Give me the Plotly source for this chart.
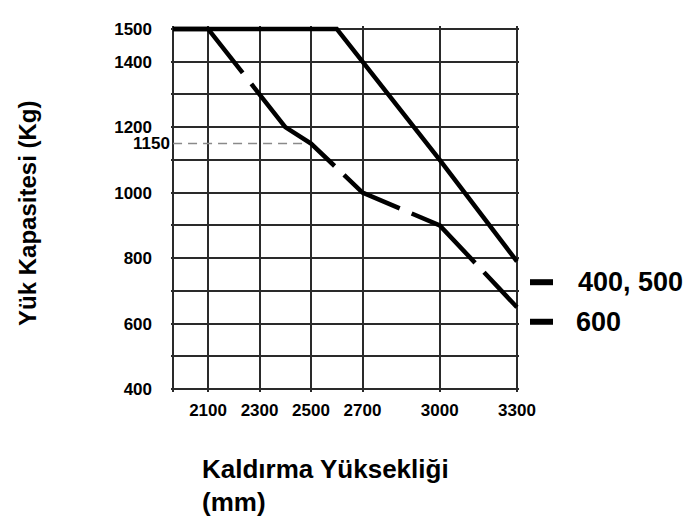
import plotly.graph_objects as go

# ---- data ----
x_start = 1964
x_ticks = [2100, 2300, 2500, 2700, 3000, 3300]
x_tick_labels = ["2100", "2300", "2500", "2700", "3000", "3300"]
y_grid = [400, 500, 600, 700, 800, 900, 1000, 1100, 1200, 1300, 1400, 1500]
y_tick_labels = ["400", "", "600", "", "800", "", "1000", "", "1200", "", "1400", "1500"]

# mast 400, 500 (solid)
x_400_500 = [x_start, 2600, 2700, 3000, 3300]
y_400_500 = [1500, 1500, 1400, 1100, 790]

# mast 600 (long dash)
x_600 = [x_start, 2100, 2400, 2500, 2700, 3000, 3300]
y_600 = [1500, 1500, 1200, 1150, 1000, 900, 650]

ref_x = [x_start, 2500]
ref_y = [1150, 1150]
ref_label = "1150"

series_labels = ["400, 500", "600"]
x_title = "Kaldırma Yüksekliği"
x_unit = "(mm)"
y_title = "Yük Kapasitesi (Kg)"

TICKF = "Liberation Sans, Arial, Helvetica, sans-serif"
ARIAL = "Liberation Sans, Arial, Helvetica, sans-serif"

fig = go.Figure()

fig.add_trace(go.Scatter(x=ref_x, y=ref_y, mode="lines",
                         line=dict(color="#8a8a8a", width=1.4, dash="9px,6px"),
                         hoverinfo="skip", showlegend=False))
fig.add_trace(go.Scatter(x=x_600, y=y_600, mode="lines",
                         line=dict(color="black", width=4.5,
                                   dash="91px,14px,118px,13px,66px,13px,82px,13px,120px,13px"),
                         name=series_labels[1], showlegend=False))
fig.add_trace(go.Scatter(x=x_400_500, y=y_400_500, mode="lines",
                         line=dict(color="black", width=4.5),
                         name=series_labels[0], showlegend=False))

grid_col = "#2a2a2a"
fig.update_xaxes(range=[1956, 3308], tickvals=[x_start] + x_ticks,
                 ticktext=[""] + x_tick_labels, tickangle=0,
                 showgrid=True, gridcolor=grid_col, gridwidth=1.5,
                 zeroline=False, showline=False, ticks="",
                 ticklabelstandoff=6,
                 tickfont=dict(family=TICKF, size=17, color="black", weight="bold"))
fig.update_yaxes(range=[391, 1509], tickvals=y_grid, ticktext=y_tick_labels,
                 showgrid=True, gridcolor=grid_col, gridwidth=1.5,
                 zeroline=False, showline=False, ticks="",
                 ticklabelstandoff=18,
                 tickfont=dict(family=TICKF, size=17, color="black", weight="bold"))

annotations = [
    dict(x=0, xref="paper", y=ref_y[0], yref="y", text=ref_label, showarrow=False,
         xanchor="right", yanchor="middle", xshift=1,
         font=dict(family=TICKF, size=17, color="black", weight="bold")),
    dict(x=(28 - 171) / 348, xref="paper", y=1 - (212 - 22) / 370, yref="paper",
         text=y_title, textangle=-90, showarrow=False, xanchor="center", yanchor="middle",
         font=dict(family=ARIAL, size=24, color="black", weight="bold")),
    dict(x=(200 - 171) / 348, xref="paper", y=1 - (470 - 22) / 370, yref="paper",
         text=x_title, showarrow=False, xanchor="left", yanchor="middle",
         font=dict(family=ARIAL, size=26, color="black", weight="bold")),
    dict(x=(200 - 171) / 348, xref="paper", y=1 - (503 - 22) / 370, yref="paper",
         text=x_unit, showarrow=False, xanchor="left", yanchor="middle",
         font=dict(family=ARIAL, size=26, color="black", weight="bold")),
    dict(x=(576 - 171) / 348, xref="paper", y=1 - (281 - 22) / 370, yref="paper",
         text=series_labels[0], showarrow=False, xanchor="left", yanchor="middle",
         font=dict(family=ARIAL, size=27, color="black", weight="bold")),
    dict(x=(574 - 171) / 348, xref="paper", y=1 - (321 - 22) / 370, yref="paper",
         text=series_labels[1], showarrow=False, xanchor="left", yanchor="middle",
         font=dict(family=ARIAL, size=27, color="black", weight="bold")),
]

shapes = []
for yy in (281, 321):
    shapes.append(dict(type="line", xref="paper", yref="paper",
                       x0=(530 - 171) / 348, x1=(553 - 171) / 348,
                       y0=1 - (yy - 22) / 370, y1=1 - (yy - 22) / 370,
                       line=dict(color="black", width=6)))

# page body adds an 8px offset, so the figure is 8px smaller on each axis
fig.update_layout(width=691, height=521,
                  margin=dict(l=163, r=180, t=14, b=137),
                  paper_bgcolor="white", plot_bgcolor="white",
                  annotations=annotations, shapes=shapes, showlegend=False)

fig.write_html("out.html")
